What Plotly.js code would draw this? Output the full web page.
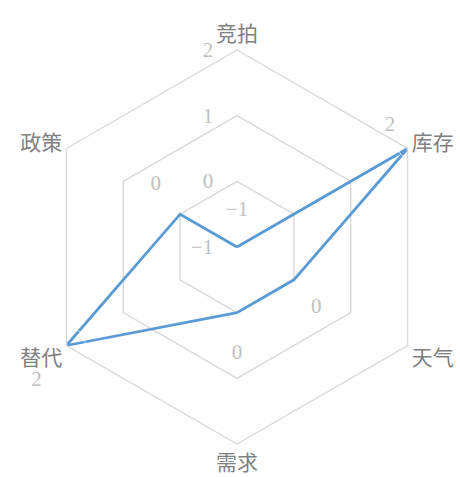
<!DOCTYPE html>
<html><head><meta charset="utf-8">
<script src="https://cdn.plot.ly/plotly-3.0.1.min.js"></script>
<style>html,body{margin:0;padding:0;background:#fff}#c{width:460px;height:477px}</style>
</head><body><div id="c"></div>
<script>
const categories = ['竞拍','库存','天气','需求','替代','政策'];
const values = [-1, 2, 0, 0, 2, 0];
const radialTicks = [-1, 0, 1, 2];

// label styling (positions relative to each point, not data)
const labelPositions = ['top center','top left','bottom right','bottom center','bottom left','top left'];
const labelOffsets = [39, 18, 26, 47, 38, 29];

const fmt = v => (v < 0 ? '\u2212' + Math.abs(v) : String(v));
const theta = categories.concat([categories[0]]);
const r = values.concat([values[0]]);

const serif = 'Liberation Serif, Times New Roman, serif';
const traces = [
  {type:'scatterpolar', r:r, theta:theta, mode:'lines',
   line:{color:'#5b9bd5', width:2.8}, hoverinfo:'skip', cliponaxis:false},
  {type:'scatterpolar', r:values, theta:categories, mode:'markers+text',
   text:values.map(fmt), textposition:labelPositions,
   marker:{size:labelOffsets, color:'rgba(0,0,0,0)'},
   textfont:{family:serif, size:21, color:'#bfbfbf'},
   hoverinfo:'skip', cliponaxis:false}
];

const layout = {
  width:460, height:477, showlegend:false,
  margin:{l:0,r:0,t:0,b:0},
  paper_bgcolor:'#fff', plot_bgcolor:'#fff',
  polar:{
    domain:{x:[40/460, 434/460], y:[33/477, 427/477]},
    bgcolor:'#fff',
    gridshape:'linear',
    radialaxis:{range:[-1,2], tickvals:radialTicks, ticktext:radialTicks.map(fmt),
      angle:90, side:'counterclockwise', tickangle:90, showline:false,
      ticks:'outside', ticklen:16, tickcolor:'rgba(0,0,0,0)',
      showgrid:true, gridcolor:'#d9d9d9', gridwidth:1.4,
      tickfont:{family:serif, size:21, color:'#bfbfbf'}},
    angularaxis:{rotation:90, direction:'clockwise', showgrid:false, showline:true,
      linecolor:'#d9d9d9', linewidth:1.4, ticks:'',
      tickfont:{family:'Noto Sans CJK SC, sans-serif', size:21, color:'#808080'}}
  }
};
Plotly.newPlot('c', traces, layout, {staticPlot:true}).then(function(){
  // plotly hides polar text points whose r is below |range min| (negative-range bug); show them
  document.querySelectorAll('.scatterlayer .textpoint').forEach(function(g){ g.removeAttribute('display'); g.style.display=''; });
});
</script></body></html>
